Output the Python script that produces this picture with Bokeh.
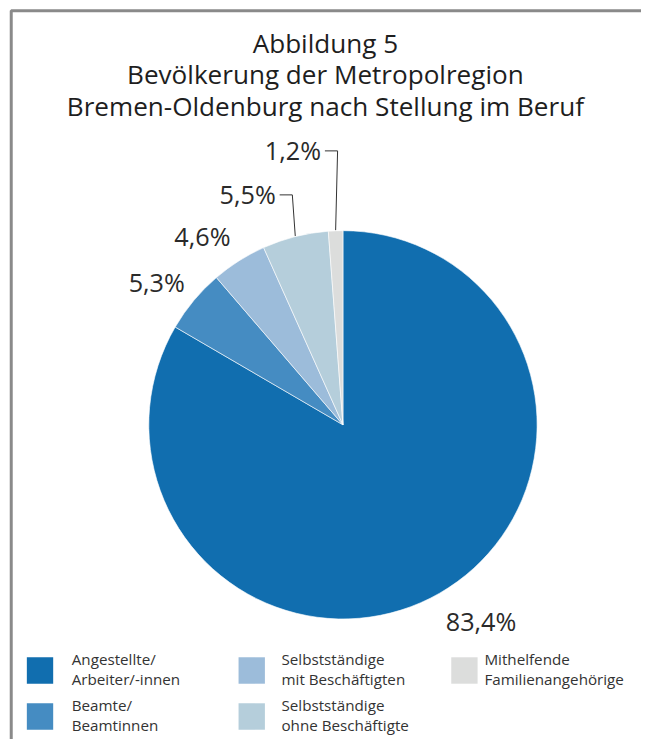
import math
from bokeh.plotting import figure
from bokeh.models import Range1d, ColumnDataSource
from bokeh.core.properties import value
from bokeh.embed import file_html
from bokeh.resources import INLINE

# ---- data ----
title_lines = ["Abbildung 5", "Bevölkerung der Metropolregion", "Bremen-Oldenburg nach Stellung im Beruf"]
categories = ["Angestellte/\nArbeiter/-innen", "Beamte/\nBeamtinnen", "Selbstständige\nmit Beschäftigten",
              "Selbstständige\nohne Beschäftigte", "Mithelfende\nFamilienangehörige"]
shares = [83.4, 5.3, 4.6, 5.5, 1.2]
colors = ["#116EAF", "#458CC2", "#9CBCDA", "#B5CEDB", "#DCDDDC"]

FONT = "Open Sans"
TXT = "#2a2a2a"

# canvas; data units correspond to the 657x755 reference layout
W, H = 641, 739
REF_W, REF_H = 657, 755
p = figure(width=W, height=H, output_backend="svg", toolbar_location=None,
           x_range=Range1d(0, REF_W), y_range=Range1d(-REF_H, 0),
           min_border=0, outline_line_color=None)
p.axis.visible = False
p.grid.visible = False
p.background_fill_color = "white"
p.border_fill_color = "white"

k = W / REF_W  # font scaling

def fs(px):
    return f"{px * k:.1f}px"

# frame
p.line(x=[11, 11, 700], y=[-800, -10.5, -10.5], line_color="#8a8a8a", line_width=3)

# title
for i, t in enumerate(title_lines):
    p.text(x=[333], y=[-(43 + i * 32.5)], text=[t], text_font=value(FONT), text_font_size=fs(26.8),
           text_align="center", text_baseline="middle", text_color="#1e1e1e")

# pie
cx, cy, R = 351, -433.5, 199
total = sum(shares)
starts, ends, mids = [], [], []
cum = 0.0
for s in shares:
    a0 = math.pi / 2 - cum / total * 2 * math.pi
    cum += s
    a1 = math.pi / 2 - cum / total * 2 * math.pi
    starts.append(a0); ends.append(a1); mids.append((a0 + a1) / 2)

src = ColumnDataSource(dict(start=starts, end=ends, color=colors))
p.wedge(x=cx, y=cy, radius=R, start_angle="start", end_angle="end", direction="clock",
        fill_color="color", line_color="white", line_width=0.6, source=src)

labels = [f"{s:.1f}".replace(".", ",") + "%" for s in shares]

# direct labels for the first three slices
label_r = [245, 240.5, 240.5]
label_turn = [5.4, 2.3, 4.4]  # degrees
for i in range(3):
    a = mids[i] + math.radians(label_turn[i])
    lx = cx + label_r[i] * math.cos(a)
    ly = cy + label_r[i] * math.sin(a)
    p.text(x=[lx], y=[ly], text=[labels[i]], text_font=value(FONT), text_font_size=fs(25.8),
           text_align="center", text_baseline="middle", text_color=TXT)

# leader-line labels for the last two slices
elbow_rise = [42, 81]
elbow_shift = [-3, 2]
for j, i in enumerate([3, 4]):
    ex = cx + R * math.cos(mids[i])
    ey = cy + R * math.sin(mids[i])
    ty = ey + elbow_rise[j]
    tx = ex + elbow_shift[j]
    p.line(x=[ex, tx, tx - 13], y=[ey, ty, ty], line_color="#333333", line_width=1)
    p.text(x=[tx - 17], y=[ty + 1], text=[labels[i]], text_font=value(FONT), text_font_size=fs(25.8),
           text_align="right", text_baseline="middle", text_color=TXT)

# legend
sq_x = [27, 244, 462]
txt_x = [73, 288, 496]
for i, (cat, col) in enumerate(zip(categories, colors)):
    c, r = i // 2, i % 2
    top = 671 + r * 47
    p.quad(left=[sq_x[c]], right=[sq_x[c] + 27], top=[-top], bottom=[-(top + 27)],
           fill_color=col, line_color=None)
    for j, line in enumerate(cat.split("\n")):
        p.text(x=[txt_x[c]], y=[-(top + 2 + j * 20)], text=[line], text_font=value(FONT),
               text_font_size=fs(15.6), text_align="left", text_baseline="middle", text_color="#333333")

open("out.html", "w").write(file_html(p, INLINE))
